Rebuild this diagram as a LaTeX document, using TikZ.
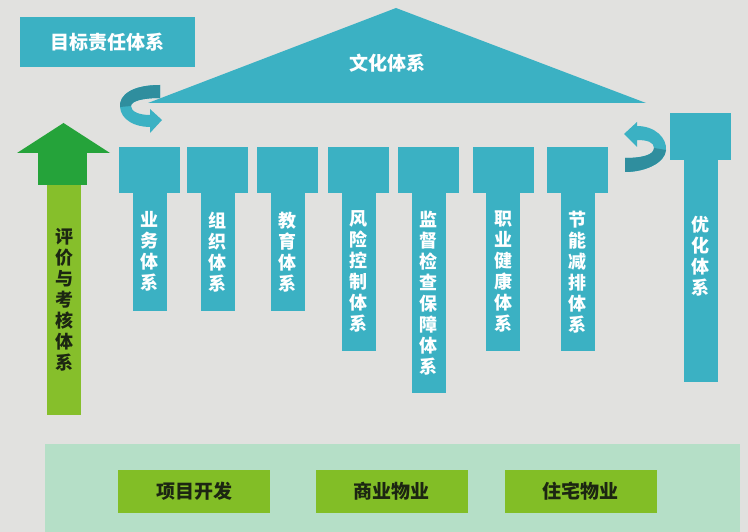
\documentclass[tikz,border=0pt]{standalone}
\usepackage{fontspec}
\newfontfamily\cjk{Noto Sans CJK SC}
\definecolor{bgcol}{HTML}{E1E1DF}
\definecolor{tealcol}{HTML}{3BB1C3}
\definecolor{tealdark}{HTML}{2F8E9E}
\definecolor{greendark}{HTML}{25A33A}
\definecolor{greenlight}{HTML}{86BF2B}
\definecolor{greenbox}{HTML}{82BE26}
\definecolor{mintcol}{HTML}{B5DFC7}
\definecolor{textdark}{HTML}{1C2612}
\tikzset{
  cjkfont/.style={font=\cjk\bfseries\fontsize{18}{21}\selectfont},
  pillarcap/.style={fill=tealcol,minimum width=61pt,minimum height=46pt,inner sep=0pt},
  stem/.style={fill=tealcol,minimum width=34pt,anchor=north,inner sep=0pt,text=white,align=center,cjkfont},
  unitbox/.style={fill=greenbox,minimum width=152pt,minimum height=43pt,inner sep=0pt,text=textdark,font=\cjk\bfseries\fontsize{19}{21}\selectfont}
}
\begin{document}
\begin{tikzpicture}[x=1pt,y=-1pt]
                \fill[bgcol] (0,0) rectangle (748,532);
                \useasboundingbox (0,0) rectangle (748,532);
                
                \node[fill=tealcol,minimum width=175pt,minimum height=50pt,inner sep=0pt,text=white,font=\cjk\bfseries\fontsize{19}{21}\selectfont] (goal) at (107.5,42) {目标责任体系};
                
                % turning arrows
                \fill[tealcol] (160,85) .. controls (132,85) and (119,95) .. (120,107) .. controls (121,120) and (135,127) .. (150,127) -- (150,133) -- (162,120) -- (150,109) -- (150,115) .. controls (140,115) and (131,112) .. (131,106) .. controls (131,101) and (143,98) .. (160,98) -- cycle;
                \fill[tealdark] (160,85) .. controls (132,85) and (119,95) .. (120,107) -- (131,106) .. controls (131,101) and (143,98) .. (160,98) -- cycle;
                \fill[tealcol] (637,126) .. controls (655,126) and (667,138) .. (666,150) .. controls (665,163) and (645,172) .. (625,172) -- (625,158) .. controls (642,158) and (654,155) .. (654,148) .. controls (654,142) and (647,140) .. (637,140) -- (637,147) -- (624,134) -- (637,122) -- cycle;
                \fill[tealdark] (666,150) .. controls (665,163) and (645,172) .. (625,172) -- (625,158) .. controls (642,158) and (654,155) .. (654,148) -- cycle;
                
                \fill[tealcol] (148,103) -- (396,8) -- (646,103) -- cycle;
                \node[text=white,font=\cjk\bfseries\fontsize{19}{21}\selectfont] (culture) at (387,63) {文化体系};
                
                % green arrow
                \fill[greendark] (17,153) -- (63.5,123) -- (110,153) -- cycle;
                \node[fill=greendark,minimum width=49pt,minimum height=33pt,inner sep=0pt] (evalhead) at (62.5,169) {};
                \node[fill=greenlight,minimum width=34pt,minimum height=230pt,inner sep=0pt,text=textdark,align=center,cjkfont] (eval) at (64,300) {评\\价\\与\\考\\核\\体\\系};
                
                \foreach \n/\cx/\by/\txt in {1/149.5/311/{业\\务\\体\\系},2/217.5/311/{组\\织\\体\\系},3/287.5/311/{教\\育\\体\\系},4/358.5/351/{风\\险\\控\\制\\体\\系},5/428.5/393/{监\\督\\检\\查\\保\\障\\体\\系},6/503/351/{职\\业\\健\\康\\体\\系},7/577.5/351/{节\\能\\减\\排\\体\\系}}{
                    \node[stem,minimum height={\by-192}] (stem\n) at (\cx,192) {\txt};
                    \node[pillarcap] (cap\n) at (\cx,170) {};
                }
                
                \node[stem,minimum height=223pt] (stem8) at (700.5,159) {};
                \node[pillarcap,minimum height=47pt] (cap8) at (700.5,136.5) {};
                \node[text=white,align=center,inner sep=0pt,cjkfont] (optim) at (700.5,256) {优\\化\\体\\系};
                
                % bottom
                \fill[mintcol] (45,444) rectangle (740,532);
                \node[unitbox] (proj) at (194,491.5) {项目开发};
                \node[unitbox] (comm) at (391.5,491.5) {商业物业};
                \node[unitbox] (home) at (580.5,491.5) {住宅物业};
\end{tikzpicture}
\end{document}
